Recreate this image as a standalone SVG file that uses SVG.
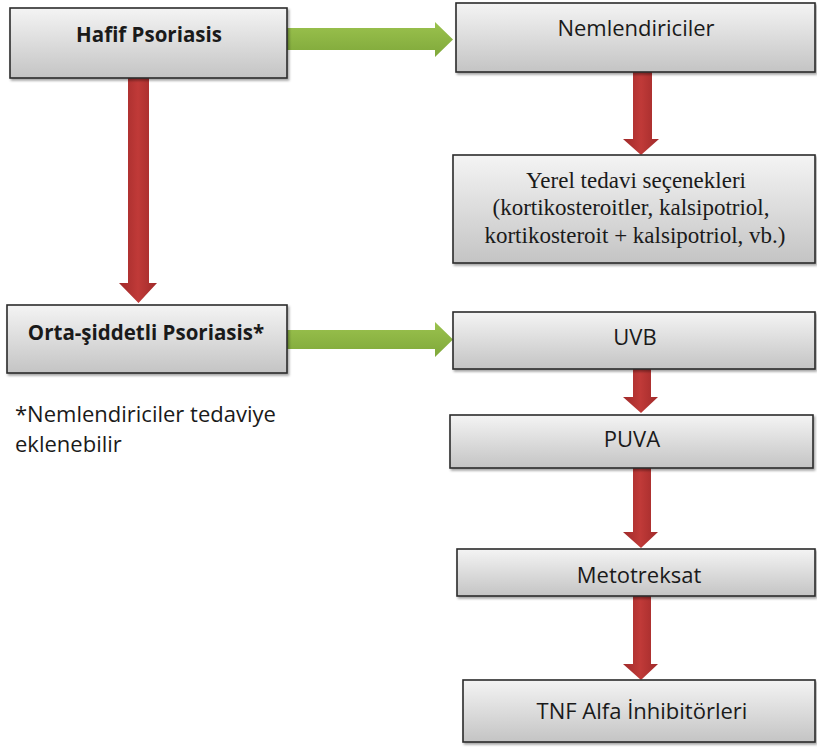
<svg xmlns="http://www.w3.org/2000/svg" width="817" height="747" viewBox="0 0 817 747">
<defs>
  <linearGradient id="boxg" x1="0" y1="0" x2="0" y2="1">
    <stop offset="0" stop-color="#f4f4f4"/>
    <stop offset="1" stop-color="#c4c4c4"/>
  </linearGradient>
  <linearGradient id="redg" x1="0" y1="0" x2="1" y2="0">
    <stop offset="0" stop-color="#a02a2a"/>
    <stop offset="0.5" stop-color="#c03a38"/>
    <stop offset="1" stop-color="#a02a2a"/>
  </linearGradient>
  <linearGradient id="greeng" x1="0" y1="0" x2="0" y2="1">
    <stop offset="0" stop-color="#9bc24e"/>
    <stop offset="1" stop-color="#7fa83a"/>
  </linearGradient>
  <filter id="sh" x="-5%" y="-10%" width="115%" height="130%">
    <feDropShadow dx="1.5" dy="2" stdDeviation="1" flood-color="#000" flood-opacity="0.35"/>
  </filter>
</defs>
<style>
  .box { fill: url(#boxg); stroke: #2b2b2b; stroke-width: 1.6; filter: url(#sh); }
  .t { font-family: "Open Sans", "Liberation Sans", sans-serif; font-size: 22px; fill: #1a1a1a; text-anchor: middle; }
  .b { font-weight: bold; font-size: 20.5px; }
  .s { font-family: "Liberation Serif", serif; font-size: 23px; fill: #1a1a1a; text-anchor: middle; }
  .note { font-family: "Open Sans", "Liberation Sans", sans-serif; font-size: 22px; fill: #1a1a1a; }
  .red { fill: url(#redg); }
  .green { fill: url(#greeng); }
</style>

<g id="connectors">
  <path class="green" d="M287,28 L435,28 L435,22 L453,39.5 L435,57 L435,50 L287,50 Z"/>
  <path class="green" d="M287,330 L435,330 L435,322 L453,339.5 L435,357 L435,349 L287,349 Z"/>
  <path class="red" d="M128,78 L149,78 L149,283 L157,283 L138.5,303 L119,283 L128,283 Z"/>
  <path class="red" d="M633,72 L652,72 L652,139 L659,139 L641,155 L623,139 L633,139 Z"/>
  <path class="red" d="M633,369 L651,369 L651,397 L658,397 L641,413 L623,397 L633,397 Z"/>
  <path class="red" d="M633,468 L651,468 L651,532 L658,532 L641,548 L623,532 L633,532 Z"/>
  <path class="red" d="M633,596 L651,596 L651,664 L658,664 L641,680 L623,664 L633,664 Z"/>
</g>

<g id="hafif">
  <rect class="box" x="10" y="8" width="277" height="70"/>
  <text class="t b" x="149" y="42">Hafif Psoriasis</text>
</g>
<g id="nemlendiriciler">
  <rect class="box" x="456" y="3" width="359" height="69"/>
  <text class="t" x="636" y="36">Nemlendiriciler</text>
</g>
<g id="yerel">
  <rect class="box" x="453" y="155" width="362" height="108"/>
  <text class="s" x="636" y="188">Yerel tedavi seçenekleri</text>
  <text class="s" x="631" y="215">(kortikosteroitler, kalsipotriol,</text>
  <text class="s" x="635" y="243">kortikosteroit + kalsipotriol, vb.)</text>
</g>
<g id="orta">
  <rect class="box" x="7" y="305" width="280" height="68"/>
  <text class="t b" x="146" y="340">Orta-şiddetli Psoriasis*</text>
</g>
<g id="note">
  <text class="note" x="15" y="422">*Nemlendiriciler tedaviye</text>
  <text class="note" x="15" y="452">eklenebilir</text>
</g>
<g id="uvb">
  <rect class="box" x="453" y="312" width="362" height="57"/>
  <text class="t" x="635" y="345">UVB</text>
</g>
<g id="puva">
  <rect class="box" x="450" y="415" width="363" height="53"/>
  <text class="t" x="632" y="447">PUVA</text>
</g>
<g id="metotreksat">
  <rect class="box" x="457" y="549" width="358" height="47"/>
  <text class="t" x="639" y="583">Metotreksat</text>
</g>
<g id="tnf">
  <rect class="box" x="463" y="680" width="352" height="62"/>
  <text class="t" x="642" y="719">TNF Alfa İnhibitörleri</text>
</g>
</svg>
